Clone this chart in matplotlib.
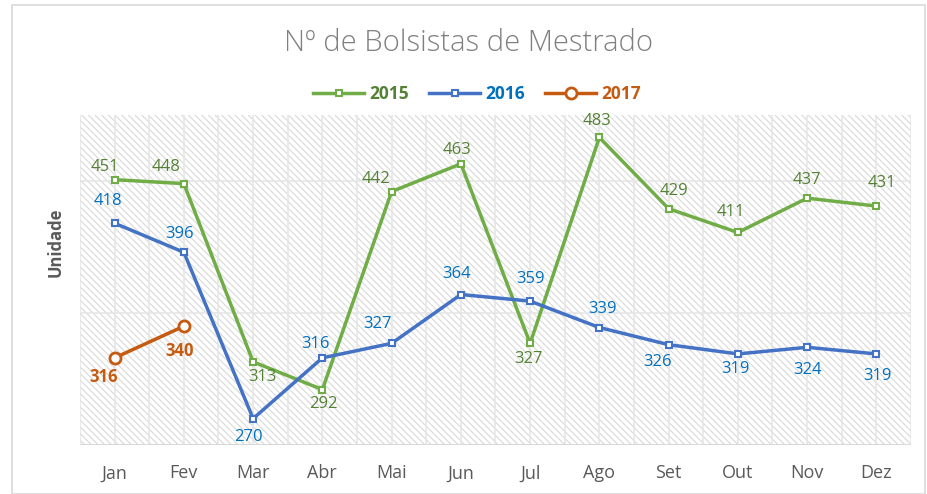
import matplotlib.pyplot as plt
import matplotlib as mpl
from matplotlib.patches import Rectangle

plt.rcParams['font.family'] = ['Open Sans', 'DejaVu Sans']
mpl.rcParams['hatch.color'] = '#d9d9d9'
mpl.rcParams['hatch.linewidth'] = 0.8

meses = ['Jan', 'Fev', 'Mar', 'Abr', 'Mai', 'Jun', 'Jul', 'Ago', 'Set', 'Out', 'Nov', 'Dez']
v2015 = [451, 448, 313, 292, 442, 463, 327, 483, 429, 411, 437, 431]
v2016 = [418, 396, 270, 316, 327, 364, 359, 339, 326, 319, 324, 319]
v2017 = [316, 340]

# label offsets from each point, in pixels (dx, dy with y pointing up)
off2015 = [(-10, 13), (-18, 17), (9, -15), (1, -14), (-16, 13), (-4, 14),
           (-2, -16), (-2, 16), (5, 18), (-7, 20), (0, 18), (6, 23)]
off2016 = [(-7, 22), (-4, 18), (-5, -18), (-7, 14), (-14, 19), (-4, 21),
           (0, 22), (3, 19), (-11, -17), (-2, -15), (0, -23), (1, -22)]
off2017 = [(-11, -19), (-4, -25)]

fig = plt.figure(figsize=(9.28, 4.94), dpi=100)
fig.patches.append(Rectangle((12 / 928, 0), 913 / 928, 489 / 494, transform=fig.transFigure,
                             fill=False, edgecolor='#d9d9d9', linewidth=1.2))
ax = fig.add_axes([80 / 928, 49 / 494, 831 / 928, 330 / 494])

x = list(range(len(meses)))
ax.set_xlim(-0.5, len(meses) - 0.5)
ax.set_ylim(250, 500)

# hatched plot area
ax.add_patch(Rectangle((0, 0), 1, 1, transform=ax.transAxes, facecolor='white',
                       hatch='\\\\\\\\\\', edgecolor='#d9d9d9', linewidth=0, zorder=0))
for xv in [i * 0.5 - 0.5 for i in range(2 * len(meses) + 1)]:
    ax.axvline(xv, color='#e6e6e6', lw=1.2, zorder=1)
for yv in [350, 450]:
    ax.axhline(yv, color='#e6e6e6', lw=1.2, zorder=1)
ax.axhline(250, color='#d9d9d9', lw=1.5, zorder=1)

ax.plot(x, v2015, color='#70AD47', lw=2.5, marker='s', ms=4.5, mfc='white',
        mew=1.5, label='2015', zorder=3)
ax.plot(x, v2016, color='#4472C4', lw=2.5, marker='s', ms=4.5, mfc='white',
        mew=1.5, label='2016', zorder=3)
ax.plot(x[:2], v2017, color='#C55A11', lw=2.5, marker='o', ms=8, mfc='white',
        mew=2, label='2017', zorder=4)


def rotular(vals, offs, cor, peso='normal'):
    for i, (v, d) in enumerate(zip(vals, offs)):
        ax.annotate(str(v), (i, v), xytext=d, textcoords='offset pixels',
                    ha='center', va='center', color=cor, fontsize=12, fontweight=peso)


rotular(v2015, off2015, '#548235')
rotular(v2016, off2016, '#0070C0')
rotular(v2017, off2017, '#C55A11', 'bold')

ax.set_xticks(x)
ax.set_xticklabels(meses, fontsize=13, color='#595959')
ax.tick_params(axis='x', length=0, pad=14)
ax.set_yticks([])
for s in ax.spines.values():
    s.set_visible(False)
ax.set_ylabel('Unidade', fontsize=12, fontweight='bold', color='#595959')
ax.yaxis.set_label_coords(-0.018, 0.615)

fig.text(0.505, 1 - 43 / 494, 'Nº de Bolsistas de Mestrado', ha='center', va='center',
         fontsize=21, color='#808080', fontweight='light')

leg = fig.legend(loc='center', bbox_to_anchor=(477 / 928, 1 - 94 / 494), ncol=3, frameon=False,
                 fontsize=12.5, handlelength=2.9, columnspacing=1.2, handletextpad=0.3)
for txt, cor in zip(leg.get_texts(), ['#548235', '#0070C0', '#C55A11']):
    txt.set_color(cor)
    txt.set_fontweight('bold')

fig.savefig('out.png', dpi=100)
